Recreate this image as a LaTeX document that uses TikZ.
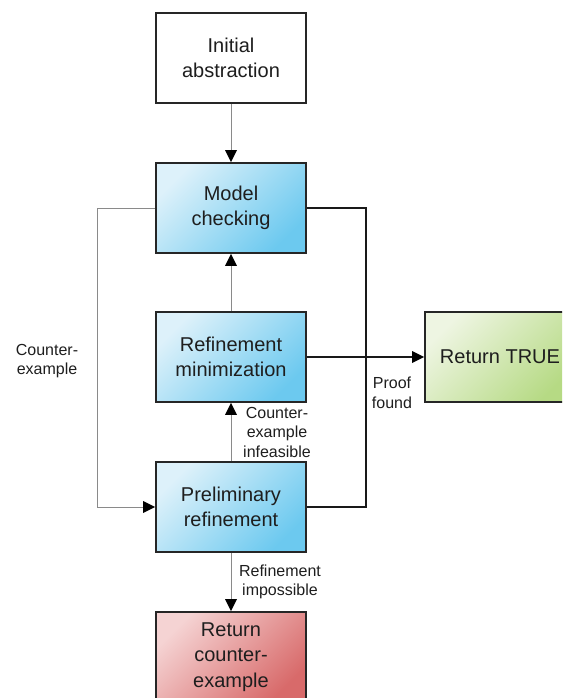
\documentclass[tikz,border=0pt]{standalone}
\usepackage{fontspec}
\setmainfont{Liberation Sans}
\usetikzlibrary{arrows.meta}
\definecolor{blueL}{HTML}{DDF1FA}
\definecolor{blueM}{HTML}{82D2F2}
\definecolor{blueD}{HTML}{6CC9EF}
\definecolor{greenL}{HTML}{EEF5E2}
\definecolor{greenM}{HTML}{C6E29C}
\definecolor{greenD}{HTML}{B6DA84}
\definecolor{redL}{HTML}{F5D3D3}
\definecolor{redM}{HTML}{E08484}
\definecolor{redD}{HTML}{D86A6A}
\definecolor{txt}{HTML}{1E1E1E}
\definecolor{lgray}{HTML}{8A8A8A}
\tikzset{
  box/.style={draw=black!85, line width=1.6pt, minimum width=150pt, minimum height=90pt,
    inner sep=0pt, align=center, text=txt, font=\fontsize{20}{25.5}\selectfont},
  bluebox/.style={box, shading=axis, top color=blueL, middle color=blueM, bottom color=blueD, shading angle=45},
  greenbox/.style={box, shading=axis, top color=greenL, middle color=greenM, bottom color=greenD, shading angle=45},
  redbox/.style={box, shading=axis, top color=redL, middle color=redM, bottom color=redD, shading angle=45},
  whitebox/.style={box, fill=white},
  thinline/.style={draw=lgray, line width=0.9pt},
  thickline/.style={draw=black!90, line width=2pt},
  tip/.style={-{Triangle[length=12pt,width=12pt,fill=black,line width=0pt]}},
  lbl/.style={align=center, text=txt, inner sep=0pt, font=\fontsize{16}{19.5}\selectfont}
}
\begin{document}
\begin{tikzpicture}[x=1pt,y=-1pt]
\useasboundingbox (0,0) rectangle (562,698);
\clip (0,0) rectangle (562,698);
\node[whitebox] (init) at (231,58) {Initial\\abstraction};
\node[bluebox] (mc) at (231,208) {Model\\checking};
\node[bluebox] (rm) at (231,357) {Refinement\\minimization};
\node[bluebox] (pr) at (231,507) {Preliminary\\refinement};
\node[redbox] (rc) at (231,657) {Return\\counter-\\example};
\node[greenbox] (tr) at (500,357) {Return TRUE};
\coordinate (lc) at (97,208);
\coordinate (rc1) at (366,208);
\draw[thinline, tip] (init) -- (mc);
\draw[thinline, tip] (rm) -- (mc);
\draw[thinline, tip] (pr) -- (rm);
\draw[thinline, tip] (pr) -- (rc);
\draw[thinline, tip] (mc.west) -- (lc) |- (pr.west);
\draw[thickline] (mc.east) -- (rc1) |- (pr.east);
\draw[thickline, tip] (rm) -- (tr);
\node[lbl] (l1) at (47,361) {Counter-\\example};
\node[lbl] (l2) at (277,432) {Counter-\\example\\infeasible};
\node[lbl] (l3) at (392,393) {Proof\\found};
\node[lbl] (l4) at (280,582) {Refinement\\impossible};
\end{tikzpicture}
\end{document}
